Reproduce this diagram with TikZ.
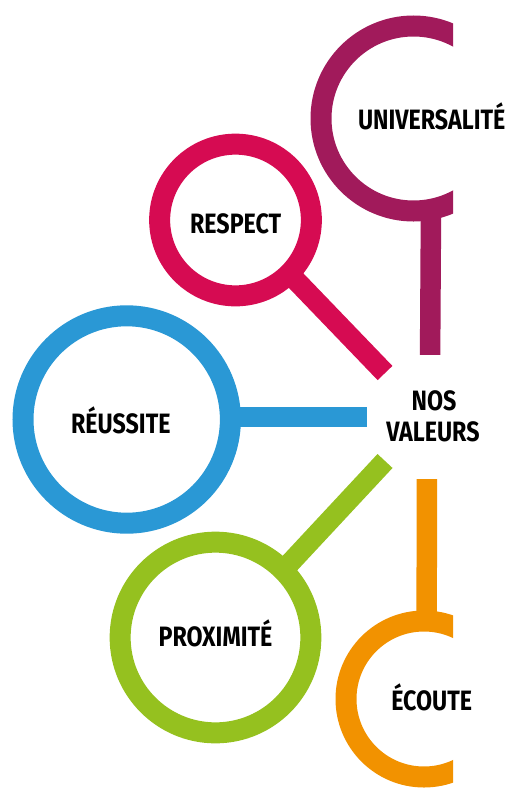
\documentclass[tikz,border=0pt]{standalone}
\usepackage{fontspec}
\newfontfamily\valfont{Fira Sans}[FakeStretch=0.83]
\definecolor{universalite}{RGB}{161,26,91}
\definecolor{respect}{RGB}{214,11,82}
\definecolor{reussite}{RGB}{42,152,213}
\definecolor{proximite}{RGB}{149,193,31}
\definecolor{ecoute}{RGB}{242,146,0}
\begin{document}
\begin{tikzpicture}[x=1pt,y=-1pt,
    ring/.style={circle, draw=#1, line width=21pt, inner sep=0pt},
    stem/.style={draw=#1, line width=20.5pt},
    word/.style={font=\valfont\bfseries\fontsize{28}{31}\selectfont, anchor=base, inner sep=0pt}]
     \useasboundingbox (0,0) rectangle (512,790);
     % hub in the middle, all stems end on its border
     \node[circle, minimum size=124pt, inner sep=0pt] (hub) at (429,417) {};
     \node[word] (nos) at (434,410) {NOS};
     \node[word] (valeurs) at (433,441) {VALEURS};

     % Rings with a handle
     \node[ring=respect, minimum size=151.7pt] (respect) at (235.5,220) {};
     \node[ring=reussite, minimum size=207.4pt] (reussite) at (126.7,419.5) {};
     \node[ring=proximite, minimum size=190.7pt] (proximite) at (215.5,637.5) {};
     \draw[stem=respect, shorten <=-6pt] (respect.-45) -- (hub.135);
     \draw[stem=reussite, shorten <=-6pt] (reussite.east |- hub) -- (hub.west);
     \draw[stem=proximite, shorten <=-6pt] (proximite.45) -- (hub.-135);

     % Open rings on the right, cut by a vertical line
     \begin{scope}
       \clip (300,0) rectangle (453,240);
       \draw[universalite, line width=21pt] (413.5,118.5) circle (92.5pt);
     \end{scope}
     \begin{scope}
       \clip (300,600) rectangle (453,790);
       \draw[ecoute, line width=21pt] (424,699) circle (78pt);
     \end{scope}
     \coordinate (universalite stem) at (431,208);
     \coordinate (ecoute stem) at (426.7,614);
     \draw[stem=universalite] (hub.89) -- (universalite stem);
     \draw[stem=ecoute] (hub.-92) -- (ecoute stem);

     % Labels
     \node[word] (universalite text) at (431.7,129.3) {UNIVERSALITÉ};
     \node[word] (respect text) at (235.7,233.3) {RESPECT};
     \node[word] (reussite text) at (120.8,433.3) {RÉUSSITE};
     \node[word] (proximite text) at (215.5,646.7) {PROXIMITÉ};
     \node[word] (ecoute text) at (431.7,710.7) {ÉCOUTE};
\end{tikzpicture}
\end{document}
